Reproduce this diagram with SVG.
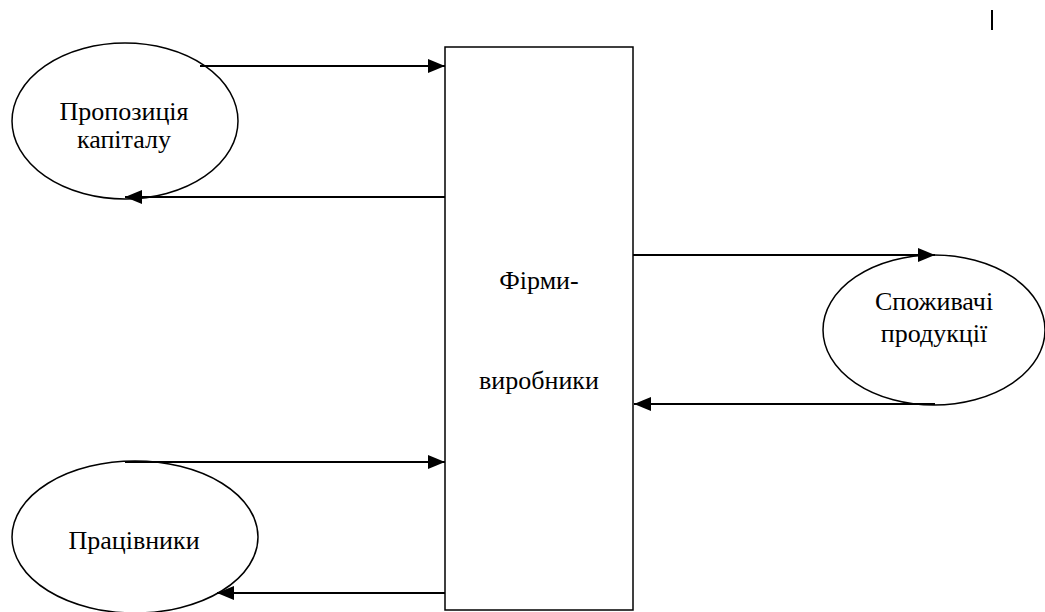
<svg xmlns="http://www.w3.org/2000/svg" width="1045" height="612" viewBox="0 0 1045 612">
<style>
.shape{fill:#fff;stroke:#000;stroke-width:1.5}
.lbl{font-family:'Liberation Serif','Times New Roman','DejaVu Serif',serif;font-size:26px;fill:#000;text-anchor:middle}
.conn{stroke:#000;stroke-width:2;fill:none;marker-end:url(#ah)}
</style>
<defs>
<marker id="ah" markerUnits="userSpaceOnUse" markerWidth="18" markerHeight="14" refX="17" refY="7" orient="auto">
<path d="M0,0 L17,7 L0,14 Z" fill="#000"/>
</marker>
</defs>
<rect width="1045" height="612" fill="#fff"/>
<g id="firms">
<rect class="shape" x="445" y="47" width="188" height="563"/>
<text class="lbl" x="539" y="289">Фірми-</text>
<text class="lbl" x="539" y="389">виробники</text>
</g>
<g id="capital">
<ellipse class="shape" cx="125" cy="121" rx="113" ry="78"/>
<text class="lbl" x="124" y="120">Пропозиція</text>
<text class="lbl" x="124" y="148">капіталу</text>
</g>
<g id="consumers">
<ellipse class="shape" cx="934" cy="330" rx="111" ry="75"/>
<text class="lbl" x="934" y="310">Споживачі</text>
<text class="lbl" x="934" y="342">продукції</text>
</g>
<g id="workers">
<ellipse class="shape" cx="135" cy="537" rx="123" ry="76"/>
<text class="lbl" x="134" y="549">Працівники</text>
</g>
<g id="connectors">
<line class="conn" x1="200" y1="66" x2="445" y2="66"/>
<line class="conn" x1="445" y1="197" x2="125" y2="197"/>
<line class="conn" x1="633" y1="255" x2="935" y2="255"/>
<line class="conn" x1="935" y1="404" x2="634" y2="404"/>
<line class="conn" x1="125" y1="462" x2="445" y2="462"/>
<line class="conn" x1="445" y1="593" x2="217" y2="593"/>
</g>
<line x1="992" y1="10" x2="992" y2="30" stroke="#000" stroke-width="2"/>
</svg>
